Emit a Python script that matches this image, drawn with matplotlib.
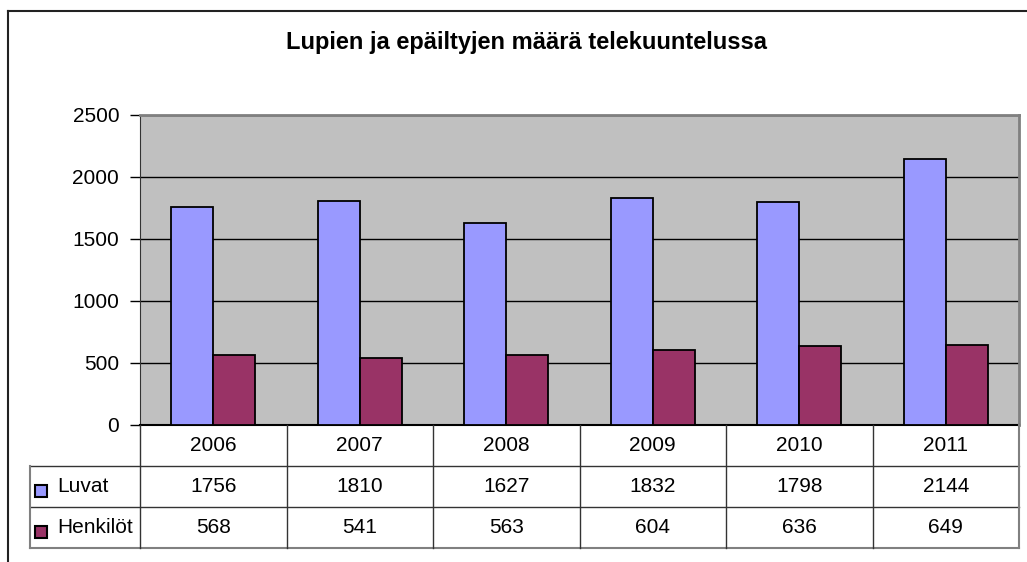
import matplotlib.pyplot as plt
from matplotlib.lines import Line2D
from matplotlib.patches import Rectangle

plt.rcParams['font.family'] = ['Liberation Sans', 'DejaVu Sans']

years = ['2006', '2007', '2008', '2009', '2010', '2011']
luvat = [1756, 1810, 1627, 1832, 1798, 2144]
henkilot = [568, 541, 563, 604, 636, 649]
series_names = ['Luvat', 'Henkilöt']
series_colors = ['#9999FF', '#993366']

W, H = 1027, 562
fig = plt.figure(figsize=(W / 100, H / 100), dpi=100)
fig.patch.set_facecolor('white')


def fx(px):
    return px / W


def fy(py):
    return 1 - py / H


# chart area frame (cut off at right and bottom)
fig.add_artist(Line2D([fx(8), fx(8)], [fy(11), 0], color='#222222', lw=1.5))
fig.add_artist(Line2D([fx(8), 1], [fy(11), fy(11)], color='#222222', lw=1.5))

fig.text(fx(527), fy(43), 'Lupien ja epäiltyjen määrä telekuuntelussa',
         ha='center', va='center', fontsize=17, fontweight='bold')

# plot area
left, right, top, bottom = 140, 1019, 115, 425
ax = fig.add_axes([fx(left), fy(bottom), fx(right - left), (bottom - top) / H])
ax.set_facecolor('#C0C0C0')

x = list(range(len(years)))
bw = 0.287
ax.bar([i - bw / 2 for i in x], luvat, bw, color=series_colors[0],
       edgecolor='black', lw=1.3, zorder=3)
ax.bar([i + bw / 2 for i in x], henkilot, bw, color=series_colors[1],
       edgecolor='black', lw=1.3, zorder=3)

ax.set_xlim(-0.5, len(years) - 0.5)
ax.set_ylim(0, 2500)
ax.set_yticks(range(0, 2501, 500))
ax.yaxis.grid(True, color='black', lw=1, zorder=1)
ax.set_axisbelow(True)
ax.set_xticks([])
ax.tick_params(axis='y', length=7, width=1, pad=8, labelsize=15)
for s in ['top', 'right']:
    ax.spines[s].set_color('#808080')
    ax.spines[s].set_linewidth(2)
ax.spines['left'].set_color('#333333')
ax.spines['bottom'].set_color('black')
ax.spines['bottom'].set_linewidth(1.5)

# data table below the plot
tleft, tbottom = 30, 548
unit = (right - left) / len(years)
lab_w = (left - tleft) / unit
row_px = (tbottom - bottom) / 3
tax = fig.add_axes([fx(tleft), fy(tbottom), fx(right - tleft), (tbottom - bottom) / H])
tax.set_xlim(-0.5 - lab_w, len(years) - 0.5)
tax.set_ylim(3, 0)
tax.axis('off')

lc = '#333333'
x0 = -0.5 - lab_w
x1 = len(years) - 0.5
for yy in [1, 2]:
    tax.plot([x0, x1], [yy, yy], color=lc, lw=1, clip_on=False)
tax.plot([x0, x1], [3, 3], color='#808080', lw=1.5, clip_on=False)
tax.plot([x0, x0], [1, 3], color='#808080', lw=1.5, clip_on=False)
for i in range(len(years)):
    tax.plot([i - 0.5, i - 0.5], [0, 3], color=lc, lw=1, clip_on=False)
tax.plot([x1, x1], [0, 3], color='#808080', lw=1.5, clip_on=False)

for i, yr in enumerate(years):
    tax.text(i, 0.5, yr, ha='center', va='center', fontsize=15)
msz_x = 12 / unit
msz_y = 12 / row_px
for r, vals in enumerate([luvat, henkilot]):
    for i, v in enumerate(vals):
        tax.text(i, r + 1.5, str(v), ha='center', va='center', fontsize=15)
    tax.add_patch(Rectangle((x0 + 5 / unit, r + 1.6 - msz_y / 2), msz_x, msz_y,
                            facecolor=series_colors[r], edgecolor='black',
                            lw=1.5, clip_on=False))
    tax.text(x0 + 27 / unit, r + 1.5, series_names[r], ha='left', va='center',
             fontsize=15)

fig.savefig('out.png', dpi=100)
